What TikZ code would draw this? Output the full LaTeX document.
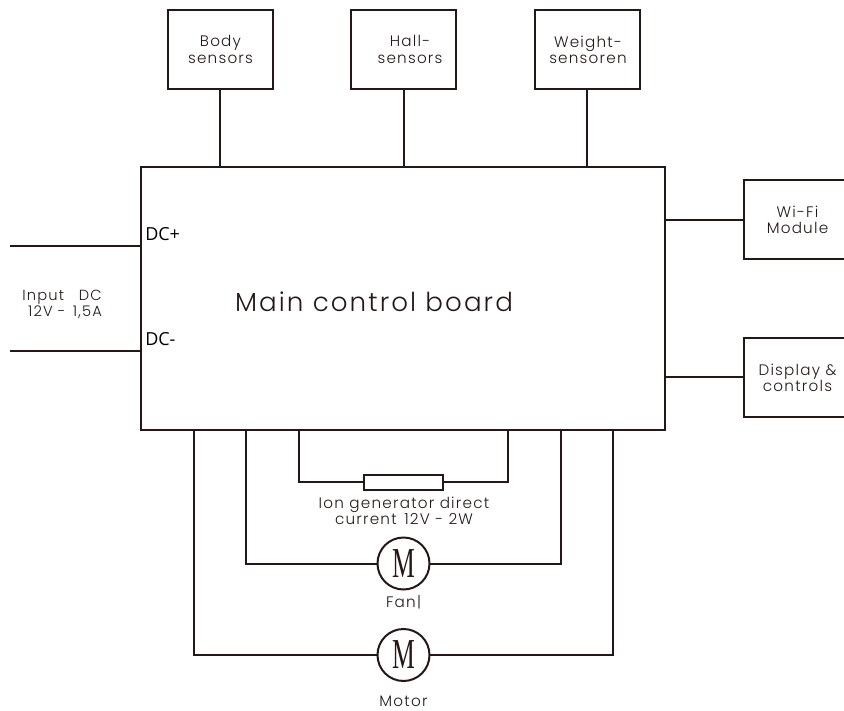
\documentclass[tikz,border=0pt]{standalone}
\usepackage{graphicx}
\usepackage{fontspec}
\setmainfont{Poppins}[Scale=1]
\newfontfamily\lightf{Poppins Light}[LetterSpace=8]
\newfontfamily\dcf{Open Sans}
\newfontfamily\mf{Liberation Serif}
\definecolor{ink}{HTML}{231815}
\tikzset{
  wire/.style={draw=ink,line width=1.5pt},
  blockbox/.style={draw=ink,line width=1.5pt,inner sep=0pt,outer sep=0pt,align=center,text=ink},
  lbl/.style={inner sep=0pt,outer sep=0pt,align=center,text=ink,font=\lightf\fontsize{11.4}{12.2}\selectfont},
  dcl/.style={inner sep=0pt,anchor=west,text=black,font=\dcf\fontsize{13.5}{15}\selectfont},
  motorc/.style={circle,draw=ink,line width=1.5pt,minimum size=39pt,inner sep=0pt,outer sep=0pt,text=ink,font=\mf\fontsize{32}{32}\selectfont},
}
\newcommand{\condM}{\scalebox{.6}[1]{M}}
\begin{document}
\begin{tikzpicture}[x=0.75pt,y=-0.75pt]
\path[use as bounding box,clip] (0,0) rectangle (844,711);
% main board
\node[blockbox,minimum width=393pt,minimum height=197.25pt,anchor=north west] (main) at (141,167) {};
\node[lbl,font=\lightf\fontsize{19.6}{22}\selectfont] (maintext) at (374,302) {Main control board};
% top sensors
\node[blockbox,minimum width=78.75pt,minimum height=59.25pt,anchor=north west] (body) at (167.5,9.5) {};
\node[lbl] (bodyt) at (220.5,49.5) {Body\\sensors};
\node[blockbox,minimum width=78.75pt,minimum height=59.25pt,anchor=north west] (hall) at (351,9.5) {};
\node[lbl] (hallt) at (410,49.5) {Hall-\\sensors};
\node[blockbox,minimum width=78.75pt,minimum height=59.25pt,anchor=north west] (weight) at (534.5,9.5) {};
\node[lbl] (weightt) at (588,49.5) {Weight-\\sensoren};
\draw[wire] (body.south) -- (body.south |- main.north);
\draw[wire] (hall.south) -- (hall.south |- main.north);
\draw[wire] (weight.south) -- (weight.south |- main.north);
% right
\node[blockbox,minimum width=80pt,minimum height=59.25pt,anchor=north west] (wifi) at (744,180) {};
\node[lbl] (wifit) at (797.5,220) {Wi-Fi\\Module};
\node[blockbox,minimum width=80pt,minimum height=59.25pt,anchor=north west] (disp) at (744,337.5) {};
\node[lbl] (dispt) at (797.5,378) {Display \&\\controls};
\draw[wire] (wifi.west) -- (wifi.west -| main.east);
\draw[wire] (disp.west) -- (disp.west -| main.east);
% left input
\coordinate (inA) at (10,246);
\coordinate (inB) at (10,351);
\draw[wire] (inA) -- (inA -| main.west);
\draw[wire] (inB) -- (inB -| main.west);
\node[dcl] (dcp) at (145,234) {DC+};
\node[dcl] (dcm) at (145,339) {DC-};
\node[lbl,font=\lightf\fontsize{11}{12}\selectfont] (input) at (62,304) {Input\hspace{1em}DC\\\hspace{.4em}12V -\hspace{.5em}1,5A};
% bottom
\node[draw=ink,line width=1.5pt,minimum width=59.25pt,minimum height=11.25pt,inner sep=0pt,outer sep=0pt] (ion) at (403.5,482) {};
\node[lbl] (iont) at (404,511) {Ion generator direct\\current\hspace{.5em}12V - 2W};
\node[motorc] (fan) at (403.5,563.5) {\condM};
\node[lbl] (fant) at (403.5,602) {Fan|};
\node[motorc] (motor) at (403.5,655) {\condM};
\node[lbl] (motort) at (403.5,701) {Motor};
\coordinate (ionL) at (299,430);
\coordinate (ionR) at (508,430);
\coordinate (fanL) at (246,430);
\coordinate (fanR) at (561,430);
\coordinate (motL) at (194,430);
\coordinate (motR) at (613,430);
\draw[wire] (ionL) |- (ion.west);
\draw[wire] (ionR) |- (ion.east);
\draw[wire] (fanL) |- (fan.west);
\draw[wire] (fanR) |- (fan.east);
\draw[wire] (motL) |- (motor.west);
\draw[wire] (motR) |- (motor.east);
\end{tikzpicture}
\end{document}
